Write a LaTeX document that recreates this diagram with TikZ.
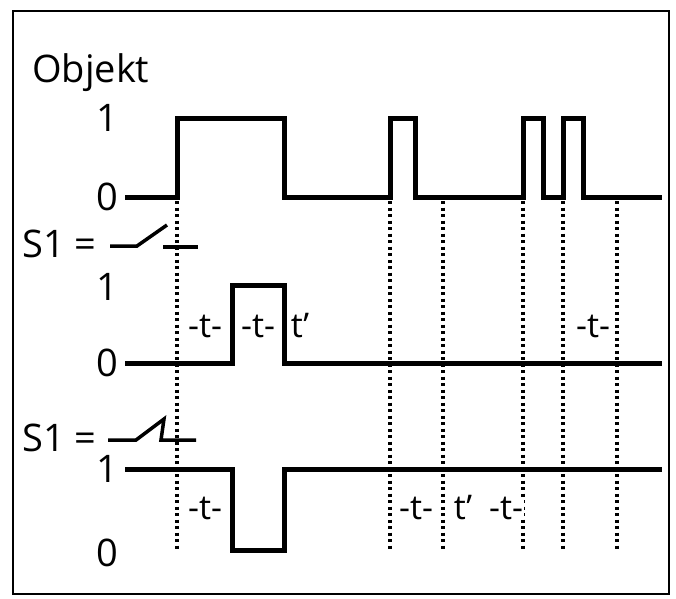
\documentclass[tikz,border=0pt]{standalone}
\usepackage{fontspec}
\setmainfont{Open Sans}
\begin{document}
\begin{tikzpicture}[x=1pt,y=-1pt,
  sig/.style={line width=5pt,line join=miter},
  dot/.style={line width=3.5pt,dash pattern=on 3pt off 3.5pt},
  lab/.style={font=\fontsize{38}{38}\selectfont,inner sep=0pt},
  tl/.style={font=\fontsize{34}{34}\selectfont,inner sep=0pt,fill=white,inner xsep=1pt}]
\useasboundingbox (0,0) rectangle (676,598);
\draw[line width=2.5pt] (13,11) rectangle (669,594);
\node[lab,anchor=west] (obj) at (32,73) {Objekt};
\foreach \y/\t/\n in {118/1/a,197/0/b,287/1/c,363/0/d,469/1/e,553/0/f}
  \node[lab] (l\n) at (107,\y) {\t};
\node[lab,anchor=west] (s1a) at (22,244) {S1 =};
\node[lab,anchor=west] (s1b) at (22,438) {S1 =};
% dotted lines
\foreach \x/\n in {177/1,390/2,443/3,523/4,563/5,617/6}{
  \coordinate (dt\n) at (\x,201);
  \coordinate (db\n) at (\x,550);
  \draw[dot] (dt\n) -- (db\n);}
% signals
\draw[sig] (125,197) -- (177,197) -- (177,118) -- (284,118) -- (284,197) -- (390,197) -- (390,118) -- (415,118) -- (415,197) -- (523,197) -- (523,118) -- (543,118) -- (543,197) -- (563,197) -- (563,118) -- (583,118) -- (583,197) -- (662,197);
\draw[sig] (125,363) -- (232,363) -- (232,285) -- (284,285) -- (284,363) -- (662,363);
\draw[sig] (125,469) -- (232,469) -- (232,550) -- (284,550) -- (284,469) -- (662,469);
% switches
\draw[line width=3.5pt] (110,246) -- (137,246) -- (167,225);
\draw[line width=3.5pt] (163,247) -- (198,247);
\draw[line width=3.5pt] (108,440) -- (136,440) -- (164,419) -- (161,440) -- (196,440);
% timing labels
\node[tl] (t1) at (205,326) {-t-};
\node[tl] (t2) at (258,326) {-t-};
\node[tl] (t3) at (300,326) {t\char39};
\node[tl] (t4) at (593,326) {-t-};
\node[tl] (t5) at (205,508) {-t-};
\node[tl] (t6) at (416,508) {-t-};
\node[tl] (t7) at (463,508) {t\char39};
\node[tl] (t8) at (506,508) {-t-};
\end{tikzpicture}
\end{document}
